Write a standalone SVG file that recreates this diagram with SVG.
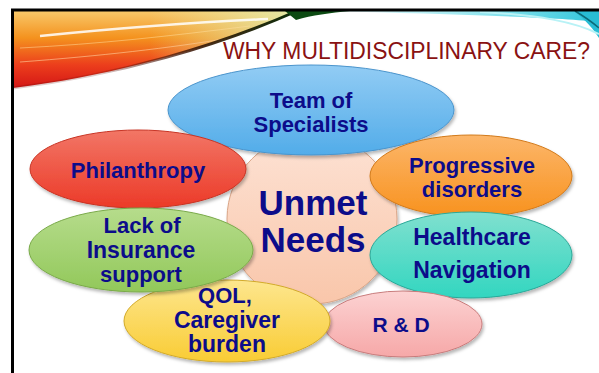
<svg xmlns="http://www.w3.org/2000/svg" width="599" height="373" viewBox="0 0 599 373">
<defs>
<style>
.lbl{font-family:"Liberation Sans",Arial,sans-serif;font-weight:bold;fill:#0c0c8a;text-anchor:middle;font-size:22px}
.big{font-size:35px}
.title{font-family:"Liberation Sans",Arial,sans-serif;fill:#8a1212;font-size:23px;text-anchor:end}
.sh{filter:url(#shadow)}
</style>
<filter id="shadow" x="-10%" y="-10%" width="125%" height="130%">
<feDropShadow dx="1.5" dy="2.5" stdDeviation="1.8" flood-color="#000" flood-opacity="0.28"/>
</filter>
<linearGradient id="gBlue" x1="0" y1="0" x2="0" y2="1"><stop offset="0" stop-color="#92ccf4"/><stop offset="1" stop-color="#52ace9"/></linearGradient>
<linearGradient id="gRed" x1="0" y1="0" x2="0" y2="1"><stop offset="0" stop-color="#f27666"/><stop offset="1" stop-color="#ec3a28"/></linearGradient>
<linearGradient id="gPeach" x1="0" y1="0" x2="0" y2="1"><stop offset="0" stop-color="#fde2d4"/><stop offset="1" stop-color="#f9c6aa"/></linearGradient>
<linearGradient id="gOrange" x1="0" y1="0" x2="0" y2="1"><stop offset="0" stop-color="#fcb66a"/><stop offset="1" stop-color="#f8921e"/></linearGradient>
<linearGradient id="gGreen" x1="0" y1="0" x2="0" y2="1"><stop offset="0" stop-color="#b6dc8c"/><stop offset="1" stop-color="#92c85a"/></linearGradient>
<linearGradient id="gYellow" x1="0" y1="0" x2="0" y2="1"><stop offset="0" stop-color="#fde68e"/><stop offset="1" stop-color="#f9cc34"/></linearGradient>
<linearGradient id="gTeal" x1="0" y1="0" x2="0" y2="1"><stop offset="0" stop-color="#80e0cf"/><stop offset="1" stop-color="#32d6c0"/></linearGradient>
<linearGradient id="gPink" x1="0" y1="0" x2="0" y2="1"><stop offset="0" stop-color="#fcd2d2"/><stop offset="1" stop-color="#f6a8a8"/></linearGradient>
<linearGradient id="gSwoosh" gradientUnits="userSpaceOnUse" x1="0" y1="11" x2="0" y2="88"><stop offset="0" stop-color="#f8c86a"/><stop offset="0.35" stop-color="#f4921e"/><stop offset="0.7" stop-color="#ec3e1c"/><stop offset="1" stop-color="#d41616"/></linearGradient>
<linearGradient id="gSwooshR" gradientUnits="userSpaceOnUse" x1="150" y1="0" x2="295" y2="0"><stop offset="0" stop-color="#e8eca8" stop-opacity="0"/><stop offset="1" stop-color="#e0ecac" stop-opacity="0.9"/></linearGradient>
<linearGradient id="gEdge" gradientUnits="userSpaceOnUse" x1="100" y1="0" x2="295" y2="0"><stop offset="0" stop-color="#5a0a04" stop-opacity="0.2"/><stop offset="0.5" stop-color="#3a1806" stop-opacity="0.9"/><stop offset="1" stop-color="#0a2a08"/></linearGradient>
<linearGradient id="gCyan" gradientUnits="userSpaceOnUse" x1="320" y1="0" x2="599" y2="0"><stop offset="0" stop-color="#b8f0f4" stop-opacity="0.3"/><stop offset="0.6" stop-color="#8ee4ee"/><stop offset="1" stop-color="#30c6dc"/></linearGradient>
</defs>
<rect width="599" height="373" fill="#ffffff"/>
<g id="decor">
<path d="M13,11 L297,11 C220,45 120,75 13,88 Z" fill="url(#gSwoosh)"/>
<path d="M13,11 L297,11 C220,45 120,75 13,88 Z" fill="url(#gSwooshR)"/>
<path d="M40,36 C120,28 200,22 268,19" stroke="#ffffff" stroke-width="2.5" fill="none" opacity="0.85"/>
<path d="M20,62 C100,56 170,48 230,38" stroke="#ffd0a0" stroke-width="1" fill="none" opacity="0.6"/>
<path d="M20,48 C100,44 170,36 250,26" stroke="#ffe0a0" stroke-width="1" fill="none" opacity="0.5"/>
<path d="M297,11 C220,45 120,75 13,88" stroke="url(#gEdge)" stroke-width="3" fill="none"/>
<path d="M285,11 L350,11 C330,13 312,15 296,20 Z" fill="#0c4a12"/>
<path d="M330,11 L599,11 L599,22 C560,17 440,14 330,11 Z" fill="url(#gCyan)"/>
<path d="M574,11 L599,11 L599,38 C594,30 586,20 574,11 Z" fill="#28bcd4"/>
<path d="M575,11 C585,17 592,22 599,28" stroke="#0d6a78" stroke-width="1.5" fill="none"/>
<path d="M480,12 C540,15 575,22 599,34" stroke="#b8f2f6" stroke-width="2" fill="none"/>
</g>
<g id="frame" fill="none" stroke="#000" stroke-width="3">
<path d="M12.5,373 L12.5,10 L599,10"/>
</g>
<text class="title" x="590" y="59" textLength="367" lengthAdjust="spacingAndGlyphs">WHY MULTIDISCIPLINARY CARE?</text>
<g id="connectors"></g>
<g id="unmet"><circle class="sh" cx="312" cy="219" r="85" fill="url(#gPeach)" stroke="#d9a486" stroke-width="1"/>
<text class="lbl big" x="313" y="215">Unmet</text><text class="lbl big" x="313" y="252">Needs</text></g>
<g id="team"><ellipse class="sh" cx="311" cy="110" rx="143" ry="45" fill="url(#gBlue)" stroke="#4a94cc" stroke-width="1"/>
<text class="lbl" x="311" y="108">Team of</text><text class="lbl" x="311" y="132">Specialists</text></g>
<g id="philanthropy"><ellipse class="sh" cx="138" cy="169" rx="108" ry="39" fill="url(#gRed)" stroke="#c83424" stroke-width="1"/>
<text class="lbl" x="138" y="178">Philanthropy</text></g>
<g id="progressive"><ellipse class="sh" cx="471" cy="176" rx="101" ry="41" fill="url(#gOrange)" stroke="#d27a1a" stroke-width="1"/>
<text class="lbl" x="472" y="173">Progressive</text><text class="lbl" x="472" y="197">disorders</text></g>
<g id="healthcare"><ellipse class="sh" cx="471" cy="255" rx="101" ry="43" fill="url(#gTeal)" stroke="#2aa898" stroke-width="1"/>
<text class="lbl" x="472" y="245" style="font-size:23px">Healthcare</text><text class="lbl" x="472" y="278" style="font-size:23px">Navigation</text></g>
<g id="rd"><ellipse class="sh" cx="403" cy="324" rx="79" ry="33" fill="url(#gPink)" stroke="#c87c7c" stroke-width="1"/>
<text class="lbl" x="401" y="332" style="font-size:21px">R &amp; D</text></g>
<g id="qol"><ellipse class="sh" cx="227" cy="321" rx="103" ry="41" fill="url(#gYellow)" stroke="#d2aa2a" stroke-width="1"/>
<text class="lbl" x="225" y="303">QOL,</text><text class="lbl" x="227" y="328" style="font-size:23px">Caregiver</text><text class="lbl" x="227" y="352" style="font-size:23px">burden</text></g>
<g id="insurance"><ellipse class="sh" cx="141" cy="250" rx="112" ry="42" fill="url(#gGreen)" stroke="#7aaa4a" stroke-width="1"/>
<text class="lbl" x="142" y="233">Lack of</text><text class="lbl" x="141" y="258" style="font-size:23px">Insurance</text><text class="lbl" x="141" y="282">support</text></g>
</svg>
